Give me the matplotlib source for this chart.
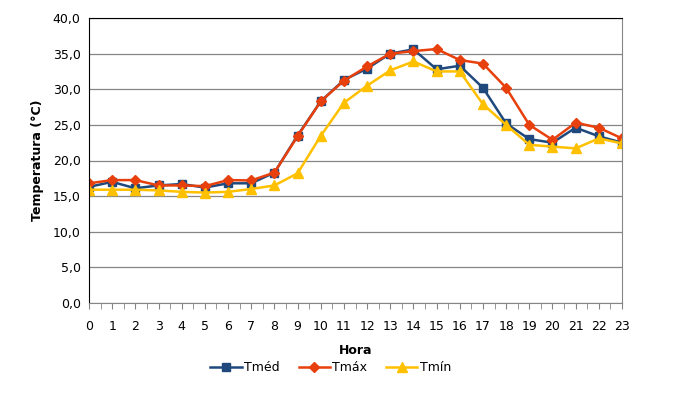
import matplotlib
matplotlib.use("Agg")
import matplotlib.pyplot as plt
import numpy as np
from matplotlib.ticker import FuncFormatter, MultipleLocator

# hours of the day
horas = list(range(24))

# temperatures (°C)
t_med = [16.3, 17.0, 16.1, 16.5, 16.7, 16.2, 16.8, 16.8, 18.3, 23.5, 28.3, 31.3,
         32.9, 35.0, 35.6, 32.8, 33.3, 30.2, 25.2, 23.0, 22.5, 24.6, 23.4, 22.5]
t_max = [16.8, 17.25, 17.25, 16.5, 16.5, 16.4, 17.25, 17.2, 18.3, 23.4, 28.3, 31.2,
         33.2, 35.0, 35.35, 35.65, 34.1, 33.6, 30.2, 25.0, 22.9, 25.3, 24.6, 23.1]
t_min = [15.9, 15.9, 15.9, 15.8, 15.6, 15.5, 15.6, 16.0, 16.5, 18.2, 23.45, 28.1,
         30.5, 32.65, 33.9, 32.5, 32.5, 27.9, 25.0, 22.2, 21.95, 21.7, 23.1, 22.4]

fig = plt.figure(figsize=(6.82, 4.03), dpi=100)
ax = fig.add_axes([89 / 682, 100 / 403, 533 / 682, 285 / 403])

ax.plot(horas, t_med, color="#1F497D", marker="s", markersize=6, linewidth=1.8, label="Tméd")
ax.plot(horas, t_max, color="#E8400C", marker="D", markersize=5.5, linewidth=1.8, label="Tmáx")
ax.plot(horas, t_min, color="#FFC000", marker="^", markersize=7, linewidth=1.8, label="Tmín")

ax.set_xlim(0, 23)
ax.set_ylim(0, 40)
ax.set_xticks(horas)
ax.xaxis.set_minor_locator(MultipleLocator(0.5))
ax.yaxis.set_major_locator(MultipleLocator(5))
ax.yaxis.set_major_formatter(FuncFormatter(lambda v, p: f"{v:.1f}".replace(".", ",")))

ax.grid(axis="y", color="#868686", linewidth=0.9)
ax.set_axisbelow(True)

for side in ("top", "left"):
    ax.spines[side].set_color("black")
for side in ("right", "bottom"):
    ax.spines[side].set_color("#868686")

ax.tick_params(axis="x", which="both", length=4, color="#868686", labelsize=9, pad=8)
ax.tick_params(axis="y", length=0, labelsize=9, pad=6)

ax.set_xlabel("Hora", fontsize=9, fontweight="bold", labelpad=8)
ax.set_ylabel("Temperatura (°C)", fontsize=9, fontweight="bold", labelpad=6)

fig.legend(loc="center", bbox_to_anchor=(0.485, 0.088), ncol=3, frameon=False,
           fontsize=9, handlelength=2.5, columnspacing=1.5, handletextpad=0.2)

fig.savefig("out.png", dpi=100)
